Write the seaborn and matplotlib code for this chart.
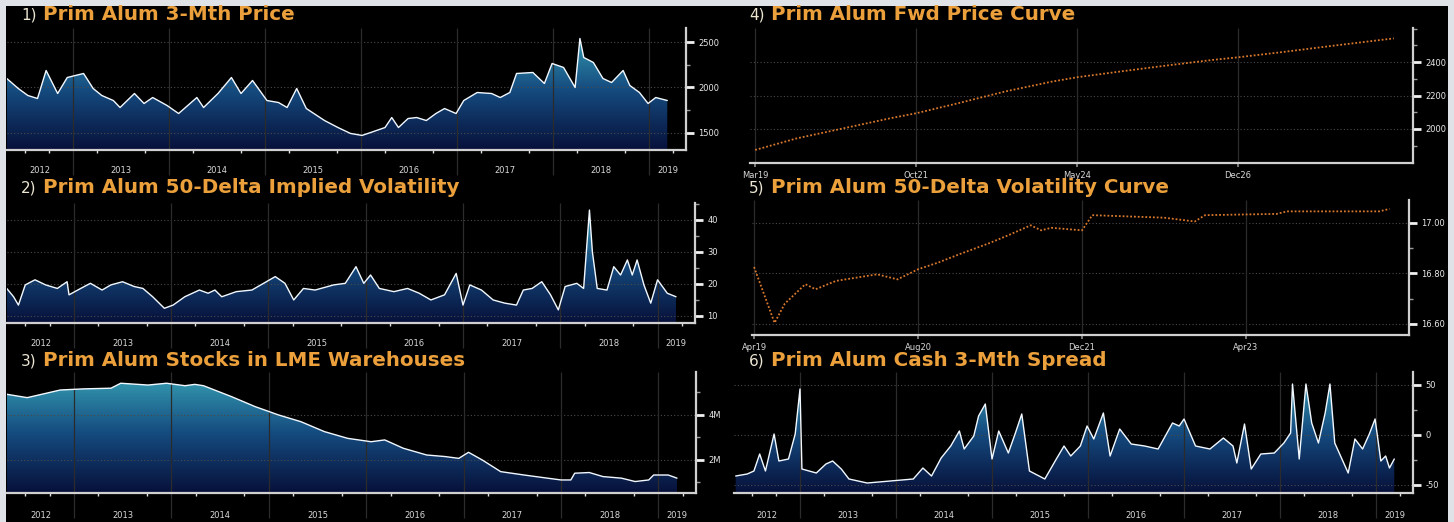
import numpy as np
import pandas as pd
import matplotlib
matplotlib.use("Agg")
import matplotlib.pyplot as plt
import seaborn as sns
from matplotlib.colors import LinearSegmentedColormap
from matplotlib.patches import Rectangle, Polygon

# ---- values ----
# 1) 3-month price, USD/t (x = decimal year)
price_year = [2012.31, 2012.43, 2012.53, 2012.63, 2012.72, 2012.84, 2012.94,
              2013.11, 2013.21, 2013.30, 2013.42, 2013.49, 2013.64, 2013.74, 2013.83, 2013.98,
              2014.10, 2014.29, 2014.36, 2014.51, 2014.65, 2014.75, 2014.87,
              2015.02, 2015.14, 2015.23, 2015.33, 2015.43, 2015.62, 2015.76, 2015.89,
              2016.01, 2016.10, 2016.25, 2016.32, 2016.39, 2016.49, 2016.58, 2016.68, 2016.78, 2016.87, 2016.99,
              2017.07, 2017.21, 2017.36, 2017.45, 2017.55, 2017.62, 2017.79, 2017.91, 2017.99,
              2018.11, 2018.23, 2018.28, 2018.32, 2018.42, 2018.52, 2018.61, 2018.73, 2018.80, 2018.90, 2018.99,
              2019.07, 2019.19]
price_usd = [2099, 1989, 1912, 1879, 2187, 1934, 2110,
             2154, 1989, 1912, 1857, 1780, 1934, 1824, 1890, 1802,
             1714, 1890, 1780, 1934, 2110, 1934, 2077,
             1857, 1835, 1780, 1989, 1769, 1637, 1560, 1495,
             1473, 1505, 1560, 1670, 1560, 1659, 1670, 1637, 1714, 1769, 1714,
             1857, 1945, 1934, 1890, 1945, 2154, 2165, 2044, 2264,
             2220, 2000, 2539, 2330, 2275, 2099, 2055, 2187, 2022, 1945, 1824,
             1890, 1857]

# 2) 50-delta implied volatility, %
ivol_year = [2012.31, 2012.38, 2012.43, 2012.50, 2012.60, 2012.71, 2012.83, 2012.93, 2012.95,
             2013.07, 2013.17, 2013.29, 2013.38, 2013.50, 2013.62, 2013.71, 2013.81, 2013.93,
             2014.02, 2014.14, 2014.29, 2014.38, 2014.45, 2014.52, 2014.67, 2014.83, 2014.95,
             2015.07, 2015.17, 2015.26, 2015.36, 2015.48, 2015.67, 2015.79, 2015.90, 2015.98,
             2016.05, 2016.14, 2016.29, 2016.43, 2016.55, 2016.67, 2016.81, 2016.93,
             2017.00, 2017.07, 2017.19, 2017.31, 2017.43, 2017.55, 2017.62, 2017.71, 2017.81, 2017.90, 2017.98,
             2018.05, 2018.17, 2018.24, 2018.30, 2018.33, 2018.38, 2018.48, 2018.55, 2018.62, 2018.69,
             2018.74, 2018.79, 2018.86, 2018.93,
             2019.00, 2019.10, 2019.19]
ivol_pct = [18.6, 16.0, 13.4, 19.7, 21.3, 19.7, 18.6, 20.7, 16.6,
            18.6, 20.2, 18.1, 19.7, 20.7, 19.2, 18.6, 16.0, 12.4,
            13.4, 16.0, 18.1, 17.1, 18.1, 16.0, 17.6, 18.1, 20.2,
            22.3, 20.2, 15.0, 18.6, 18.1, 19.7, 20.2, 25.4, 20.2,
            22.8, 18.6, 17.6, 18.6, 17.1, 15.0, 16.6, 23.3,
            13.4, 19.7, 18.1, 15.0, 14.0, 13.4, 18.1, 18.6, 20.7, 16.6, 11.9,
            19.2, 20.2, 18.6, 43.1, 30.1, 18.6, 18.1, 25.4, 22.8, 27.5,
            22.8, 27.5, 19.7, 14.0,
            21.3, 17.1, 16.0]

# 3) LME warehouse stocks, million tonnes
stock_year = [2012.31, 2012.52, 2012.71, 2012.86,
              2013.10, 2013.38, 2013.48, 2013.76, 2013.95,
              2014.14, 2014.24, 2014.33, 2014.62, 2014.86,
              2015.10, 2015.33, 2015.57, 2015.81,
              2016.05, 2016.19, 2016.38, 2016.62, 2016.81, 2016.95,
              2017.05, 2017.19, 2017.38, 2017.62, 2017.86,
              2018.00, 2018.10, 2018.14, 2018.29, 2018.43, 2018.62, 2018.76, 2018.90, 2018.95,
              2019.10, 2019.19]
stock_mt = [4.92, 4.77, 4.96, 5.11,
            5.16, 5.19, 5.41, 5.33, 5.41,
            5.30, 5.36, 5.30, 4.81, 4.37,
            4.00, 3.70, 3.26, 2.96,
            2.81, 2.89, 2.52, 2.22, 2.15, 2.07,
            2.34, 2.00, 1.48, 1.33, 1.19,
            1.11, 1.11, 1.41, 1.44, 1.26, 1.19, 1.04, 1.11, 1.33,
            1.33, 1.19]

# 6) cash / 3-month spread, USD/t
spread_year = [2012.33, 2012.45, 2012.52, 2012.58, 2012.64, 2012.73, 2012.78, 2012.88, 2012.95,
               2013.00, 2013.02, 2013.17, 2013.27, 2013.34, 2013.43, 2013.51, 2013.70, 2013.94,
               2014.18, 2014.28, 2014.37, 2014.47, 2014.57, 2014.66, 2014.71, 2014.81, 2014.86, 2014.93,
               2015.00, 2015.07, 2015.17, 2015.24, 2015.31, 2015.39, 2015.55, 2015.67, 2015.75, 2015.82, 2015.92, 2015.99,
               2016.06, 2016.16, 2016.23, 2016.33, 2016.45, 2016.59, 2016.73, 2016.88, 2016.95,
               2017.00, 2017.12, 2017.27, 2017.41, 2017.51, 2017.55, 2017.63, 2017.70, 2017.80, 2017.94,
               2018.04, 2018.11, 2018.13, 2018.20, 2018.27, 2018.33, 2018.40, 2018.47, 2018.52, 2018.57,
               2018.71, 2018.78, 2018.86, 2018.93, 2018.99,
               2019.05, 2019.10, 2019.14, 2019.19]
spread_usd = [-41, -39, -36, -19, -36, 1, -26, -24, 1,
              46, -34, -38, -29, -26, -34, -44, -48, -46,
              -44, -33, -41, -23, -11, 4, -14, -1, 19, 31,
              -24, 4, -18, 1, 21, -36, -44, -24, -11, -21, -11, 9,
              -4, 22, -21, 6, -9, -11, -14, 12, 9,
              16, -11, -14, -3, -11, -28, 11, -34, -19, -18,
              -8, 2, 51, -24, 51, 12, -8, 22, 51, -8,
              -38, -4, -14, 1, 16,
              -26, -21, -33, -24]

# 4) forward price curve (x = months after Mar 2019), USD/t
fwd_month = [0, 8, 17, 26, 31, 39, 48, 57, 62, 70, 79, 88, 93, 102, 111, 123]
fwd_usd = [1875, 1944, 2004, 2064, 2094, 2153, 2223, 2282, 2309, 2342, 2378, 2412, 2428, 2461, 2496, 2541]
fwd_ticks = [0, 31, 62, 93]
fwd_labels = ['Mar19', 'Oct21', 'May24', 'Dec26']

# 5) 50-delta volatility curve (x = months after Apr 2019), %
vc_month = [0, 2, 3, 5, 6, 8, 12, 14, 16, 18, 20, 23, 25, 27, 28, 29, 32, 33, 40, 43, 44, 51, 52, 61, 62]
vc_pct = [16.825, 16.604, 16.68, 16.757, 16.737, 16.77, 16.796, 16.776, 16.816, 16.843, 16.875,
          16.92, 16.954, 16.99, 16.97, 16.98, 16.97, 17.03, 17.02, 17.005, 17.03, 17.035, 17.045,
          17.045, 17.055]
vc_ticks = [0, 16, 32, 48]
vc_labels = ['Apr19', 'Aug20', 'Dec21', 'Apr23']

years = list(range(2012, 2020))

W, H = 1454, 522
ORANGE = '#eba03c'
DOTS = (0, (1, 1.1))

sns.set_theme(style="dark")
plt.rcParams['font.family'] = ['DejaVu Sans']

fig = plt.figure(figsize=(W / 100, H / 100), dpi=100, facecolor='#dfe3e8')
fig.add_artist(Rectangle((6 / W, 0), 1442 / W, 516 / H, transform=fig.transFigure,
                         facecolor='black', edgecolor='none', zorder=0))

grad = LinearSegmentedColormap.from_list('bbg', ['#07103a', '#154c80', '#38a4b6'])


def px_axes(l, t, r, b):
    ax = fig.add_axes([l / W, 1 - b / H, (r - l) / W, (b - t) / H])
    ax.set_facecolor('black')
    ax.grid(False)
    return ax


def style_y(ax, ylim, yt, ylab, yminor):
    ax.set_ylim(ylim)
    for s in ('left', 'top'):
        ax.spines[s].set_visible(False)
    for s in ('right', 'bottom'):
        ax.spines[s].set_visible(True)
        ax.spines[s].set_color('#d0d0d0')
        ax.spines[s].set_linewidth(1.6)
    ax.yaxis.tick_right()
    ax.set_yticks(yt)
    ax.set_yticklabels(ylab)
    ax.set_yticks(yminor, minor=True)
    ax.tick_params(axis='y', which='major', left=False, right=True, color='#f0f0f0',
                   labelcolor='#e8e8e8', labelsize=6, length=6, width=2, pad=3)
    ax.tick_params(axis='y', which='minor', left=False, right=True, color='#9a9a9a', length=3, width=1)
    for v in yt:
        ax.axhline(v, color='#4a4a4a', lw=0.8, ls=(0, (1, 2)), zorder=2)
    ax.set_xlabel('')
    ax.set_ylabel('')


def time_axis(ax, xlim, h_px, label_gap):
    ax.set_xlim(xlim)
    centers = [(max(y, xlim[0]) + min(y + 1, xlim[1])) / 2 for y in years]
    ax.set_xticks(centers)
    ax.set_xticklabels([str(y) for y in years])
    ax.set_xticks([y + q / 4 for y in years for q in (1, 2, 3) if xlim[0] < y + q / 4 < xlim[1]], minor=True)
    ax.tick_params(axis='x', which='major', bottom=True, length=0, labelsize=6,
                   labelcolor='#d8d8d8', pad=label_gap)
    ax.tick_params(axis='x', which='minor', bottom=True, color='#e0e0e0', length=2.5, width=1)
    starts = [y for y in years if xlim[0] < y < xlim[1]]
    ax.vlines(starts, -25 / h_px, 1, transform=ax.get_xaxis_transform(), colors='#2b2b2b',
              lw=0.9, clip_on=False, zorder=2)


def gradient_area(ax, x, y, xlim, ylim):
    x = np.asarray(x, float)
    y = np.asarray(y, float)
    verts = np.vstack([[x[0], ylim[0]], np.column_stack([x, y]), [x[-1], ylim[0]]])
    clip = Polygon(verts, closed=True, facecolor='none', edgecolor='none')
    ax.add_patch(clip)
    img = ax.imshow(np.linspace(0, 1, 256).reshape(-1, 1), cmap=grad, aspect='auto',
                    origin='lower', extent=[xlim[0], xlim[1], ylim[0], ylim[1]], zorder=1)
    img.set_clip_path(clip)
    df = pd.DataFrame({'x': x, 'y': y})
    sns.lineplot(data=df, x='x', y='y', ax=ax, color='#f2f8ff', lw=1.0, zorder=4)
    ax.set_xlim(xlim)
    ax.set_ylim(ylim)


def title(xn, xt, y, num, text):
    fig.text(xn / W, 1 - y / H, num, color='#ece6d2', fontsize=11, va='center', ha='left')
    fig.text(xt / W, 1 - y / H, text, color=ORANGE, fontsize=14.3, fontweight='bold', va='center', ha='left')


XL = (2012.3125, 2019.385)

# 1) price
ax1 = px_axes(7, 28, 686, 150)
gradient_area(ax1, price_year, price_usd, XL, (1313, 2654))
style_y(ax1, (1313, 2654), [1500, 2000, 2500], ['1500', '2000', '2500'], [1750, 2250])
time_axis(ax1, XL, 122, 11.5)
title(21, 43, 15, '1)', 'Prim Alum 3-Mth Price')

# 2) implied vol
ax2 = px_axes(7, 203, 695, 323)
gradient_area(ax2, ivol_year, ivol_pct, XL, (7.8, 45.3))
style_y(ax2, (7.8, 45.3), [10, 20, 30, 40], ['10', '20', '30', '40'], [15, 25, 35, 45])
time_axis(ax2, XL, 120, 11.5)
title(21, 43, 188, '2)', 'Prim Alum 50-Delta Implied Volatility')

# 3) stocks
ax3 = px_axes(7, 372, 696, 493)
gradient_area(ax3, stock_year, stock_mt, XL, (0.53, 5.91))
style_y(ax3, (0.53, 5.91), [2, 4], ['2M', '4M'], [1, 3, 5])
time_axis(ax3, XL, 121, 13)
title(21, 43, 361, '3)', 'Prim Alum Stocks in LME Warehouses')

# 6) cash-3m spread
ax6 = px_axes(734, 372, 1413, 493)
gradient_area(ax6, spread_year, spread_usd, XL, (-58, 63))
style_y(ax6, (-58, 63), [-50, 0, 50], ['-50', '0', '50'], [-25, 25])
time_axis(ax6, XL, 121, 13)
title(749, 771, 361, '6)', 'Prim Alum Cash 3-Mth Spread')

# 4) forward curve
ax4 = px_axes(750, 28, 1413, 163)
sns.lineplot(x=fwd_month, y=fwd_usd, ax=ax4, color='#d9782c', lw=1.3, linestyle=DOTS, zorder=4)
ax4.set_xlim(-1, 126.7)
style_y(ax4, (1797, 2603), [2000, 2200, 2400], ['2000', '2200', '2400'], [1900, 2100, 2300, 2500, 2600])
ax4.set_xticks(fwd_ticks)
ax4.set_xticklabels(fwd_labels)
ax4.tick_params(axis='x', bottom=True, length=3, color='#888888', labelsize=6, labelcolor='#d8d8d8', pad=3)
ax4.vlines(fwd_ticks, 0, 1, transform=ax4.get_xaxis_transform(), colors='#2b2b2b', lw=0.9, zorder=2)
title(749, 771, 15, '4)', 'Prim Alum Fwd Price Curve')

# 5) vol curve
ax5 = px_axes(752, 200, 1409, 335)
sns.lineplot(x=vc_month, y=vc_pct, ax=ax5, color='#d9782c', lw=1.3, linestyle=DOTS, zorder=4)
ax5.set_xlim(-0.2, 63.9)
style_y(ax5, (16.556, 17.09), [16.6, 16.8, 17.0], ['16.60', '16.80', '17.00'], [16.7, 16.9])
ax5.set_xticks(vc_ticks)
ax5.set_xticklabels(vc_labels)
ax5.tick_params(axis='x', bottom=True, length=3, color='#888888', labelsize=6, labelcolor='#d8d8d8', pad=3)
ax5.vlines(vc_ticks, 0, 1, transform=ax5.get_xaxis_transform(), colors='#2b2b2b', lw=0.9, zorder=2)
title(749, 771, 188, '5)', 'Prim Alum 50-Delta Volatility Curve')

fig.savefig('out.png', dpi=100, facecolor=fig.get_facecolor())
